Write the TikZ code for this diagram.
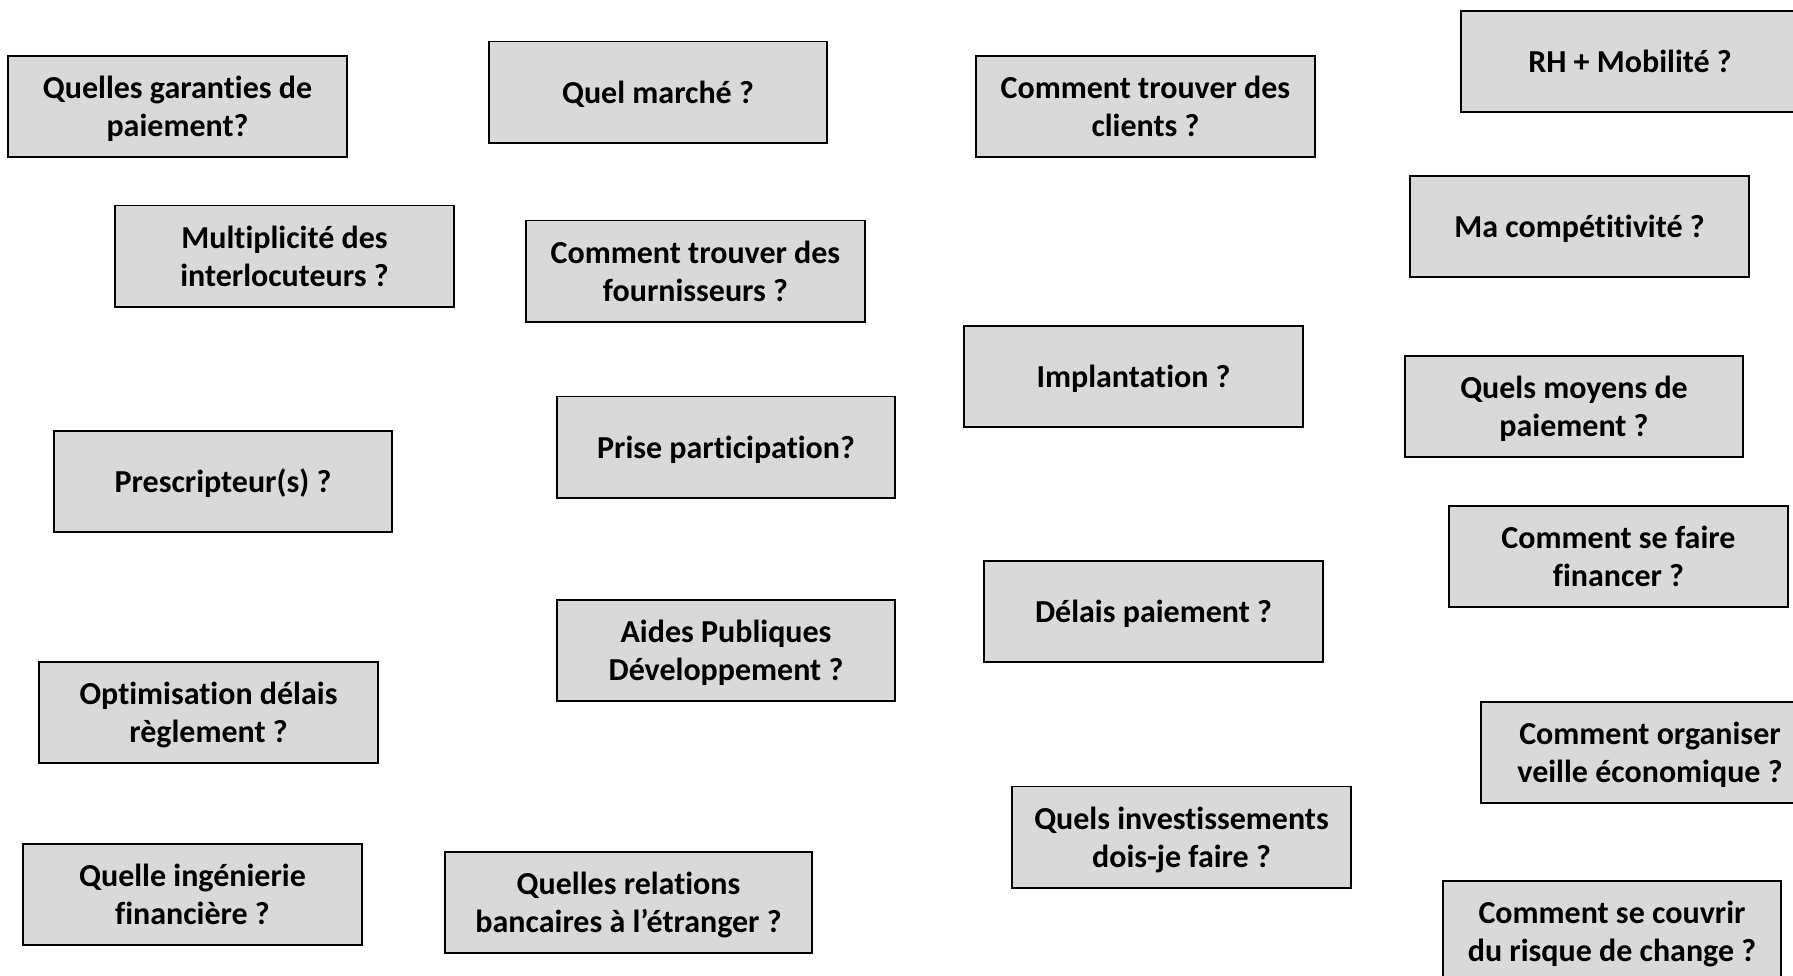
\documentclass[tikz,border=0pt]{standalone}
\usepackage{fontspec}
\setmainfont{Carlito}[Ligatures=NoCommon]
\usepackage{tikz}
\definecolor{boxc}{HTML}{D9D9D9}
\tikzset{
  qbox/.style={draw=black,line width=0.55pt,fill=boxc,minimum width=3.38cm,minimum height=1.01cm,
    inner sep=1pt,font=\fontsize{9.1}{10.8}\selectfont\bfseries},
  widebox/.style={qbox,minimum width=3.67cm},
}
\newcommand{\qnode}[4][qbox]{\node[#1] (#2) at (#3)
  {\raisebox{-1pt}[\height][\depth]{\begin{tabular}{@{}c@{}}#4\end{tabular}}};}
\begin{document}
\begin{tikzpicture}[x=0.01cm,y=-0.01cm]
  \useasboundingbox (0,0) rectangle (1793,975);
  \clip (0,0) rectangle (1793,975);
  % left column
  \qnode{garanties}{177.5,106.5}{Quelles garanties de\\paiement?}
  \qnode{interloc}{284.5,256}{Multiplicité des\\interlocuteurs ?}
  \qnode{prescr}{223,481.5}{Prescripteur(s) ?}
  \qnode{optim}{208.5,712.5}{Optimisation délais\\règlement ?}
  \qnode{ingen}{192.5,894.5}{Quelle ingénierie\\financière ?}
  % second column
  \qnode{marche}{658,92}{Quel marché ?}
  \qnode{fourn}{695.5,271}{Comment trouver des\\fournisseurs ?}
  \qnode{partic}{726,447}{Prise participation?}
  \qnode{aides}{726,650.5}{Aides Publiques\\Développement ?}
  \qnode[widebox]{banque}{628.5,902.5}{Quelles relations\\bancaires à l’étranger ?}
  % third column
  \qnode{clients}{1145.5,106.5}{Comment trouver des\\clients ?}
  \qnode{implant}{1133.5,376.5}{Implantation ?}
  \qnode{delais}{1153.5,611.5}{Délais paiement ?}
  \qnode{invest}{1181.5,837}{Quels investissements\\dois-je faire ?}
  % right column
  \qnode{rh}{1630,61.5}{RH + Mobilité ?}
  \qnode{compet}{1579.5,226.5}{Ma compétitivité ?}
  \qnode{moyens}{1574,406.5}{Quels moyens de\\paiement ?}
  \qnode{financer}{1618.5,556.5}{Comment se faire\\financer ?}
  \qnode{veille}{1650,752.5}{Comment organiser\\veille économique ?}
  \qnode{change}{1612,931.5}{Comment se couvrir\\du risque de change ?}
\end{tikzpicture}
\end{document}
